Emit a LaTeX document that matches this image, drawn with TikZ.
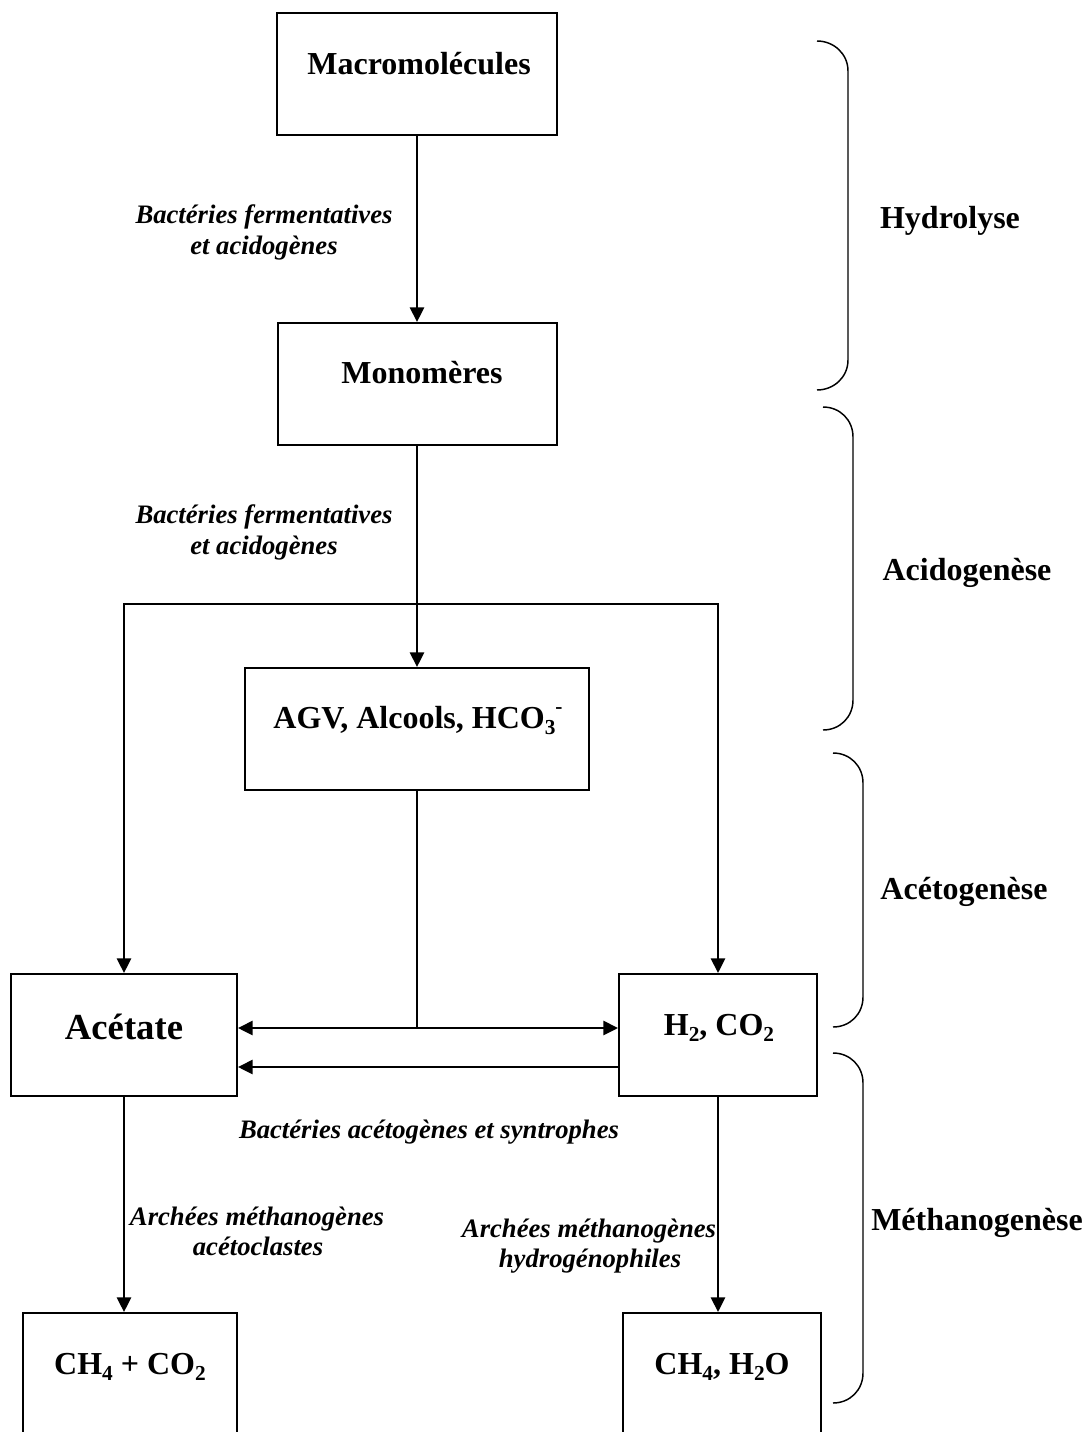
\documentclass[tikz,border=0pt]{standalone}
\usepackage{fontspec}
\setmainfont{Liberation Serif}
\usetikzlibrary{arrows.meta,fit}
\newcommand\lowidx[1]{\raisebox{-0.2em}{\fontsize{16}{16}\selectfont #1}}
\newcommand\highidx[1]{\raisebox{0.45em}{\fontsize{16}{16}\selectfont #1}}
\begin{document}
\begin{tikzpicture}[x=0.75pt,y=-0.75pt,
  box/.style={draw, line width=1.4pt, inner sep=0pt},
  boxtxt/.style={font=\fontsize{24}{28}\selectfont\bfseries, anchor=base, inner sep=0pt},
  bigtxt/.style={font=\fontsize{27.5}{32}\selectfont\bfseries, anchor=base, inner sep=0pt},
  agent/.style={font=\fontsize{20}{24}\selectfont\bfseries\itshape, anchor=base, inner sep=0pt},
  phase/.style={font=\fontsize{24}{28}\selectfont\bfseries, anchor=base, inner sep=0pt},
  tip/.tip={Triangle[length=11pt,width=10.5pt]},
  flow/.style={line width=1.7pt, -tip},
  flowboth/.style={line width=1.8pt, tip-tip},
  stem/.style={line width=1.1pt},
  bracket/.style={line width=1.1pt}]
\useasboundingbox (0,0) rectangle (1089,1432);
\begin{scope}
\clip (0,0) rectangle (1089,1432);
% boxes
\node[box, fit={(277,13)(557,135)}] (macro) {};
\node[box, fit={(278,323)(557,445)}] (mono) {};
\node[box, fit={(245,668)(589,790)}] (agv) {};
\node[box, fit={(11,974)(237,1096)}] (acet) {};
\node[box, fit={(619,974)(817,1096)}] (htwo) {};
\node[box, fit={(23,1313)(237,1460)}] (chco) {};
\node[box, fit={(623,1313)(821,1460)}] (chho) {};
% box texts
\node[boxtxt] (tmacro) at (419,74) {Macromolécules};
\node[boxtxt] (tmono) at (422,383) {Monomères};
\node[boxtxt] (tagv) at (418,728) {AGV, Alcools, HCO\lowidx{3}\highidx{-}};
\node[bigtxt] (tacet) at (124,1039) {Acétate};
\node[boxtxt] (thtwo) at (719,1035) {H\lowidx{2}, CO\lowidx{2}};
\node[boxtxt] (tchco) at (130,1374) {CH\lowidx{4} + CO\lowidx{2}};
\node[boxtxt] (tchho) at (722,1374) {CH\lowidx{4}, H\lowidx{2}O};
% agents
\node[agent] (a1a) at (264,223) {Bactéries fermentatives};
\node[agent] (a1b) at (264,254) {et acidogènes};
\node[agent] (a2a) at (264,523) {Bactéries fermentatives};
\node[agent] (a2b) at (264,554) {et acidogènes};
\node[agent] (a3) at (429,1138) {Bactéries acétogènes et syntrophes};
\node[agent] (a4a) at (257,1225) {Archées méthanogènes};
\node[agent] (a4b) at (258,1255) {acétoclastes};
\node[agent] (a5a) at (589,1237) {Archées méthanogènes};
\node[agent] (a5b) at (590,1267) {hydrogénophiles};
% phases
\node[phase] (hydro) at (950,228) {Hydrolyse};
\node[phase] (acido) at (967,580) {Acidogenèse};
\node[phase] (aceto) at (964,899) {Acétogenèse};
\node[phase] (metha) at (977,1230) {Méthanogenèse};
% connectors
\coordinate (split) at (417,604);
\coordinate (junc) at (419,1028);
\coordinate (back) at (0,1067);
\draw[flow] (macro.south) -- (macro.south |- mono.north);
\draw[flow] (macro.south |- mono.south) -- (macro.south |- agv.north);
\draw[flow] (split) -| (acet.north);
\draw[flow] (split) -| (htwo.north);
\draw[stem] (agv.south) -- (agv.south |- junc);
\draw[flowboth] (acet.east |- junc) -- (htwo.west |- junc);
\draw[flowboth, -tip] (htwo.west |- back) -- (acet.east |- back);
\draw[flow] (acet.south) -- (acet.south |- chco.north);
\draw[flow] (htwo.south) -- (htwo.south |- chho.north);
% brackets
\newcommand\phasebracket[4]{%
  \draw[bracket] (#1,#3) .. controls ({#1+17},#3) and (#2,{#3+13}) .. (#2,{#3+30})
    -- (#2,{#4-30}) .. controls (#2,{#4-13}) and ({#1+17},#4) .. (#1,#4);}
\phasebracket{817}{848}{41}{390}
\phasebracket{823}{853}{407}{730}
\phasebracket{833}{863}{753}{1027}
\phasebracket{833}{863}{1053}{1403}
\end{scope}
\end{tikzpicture}
\end{document}
